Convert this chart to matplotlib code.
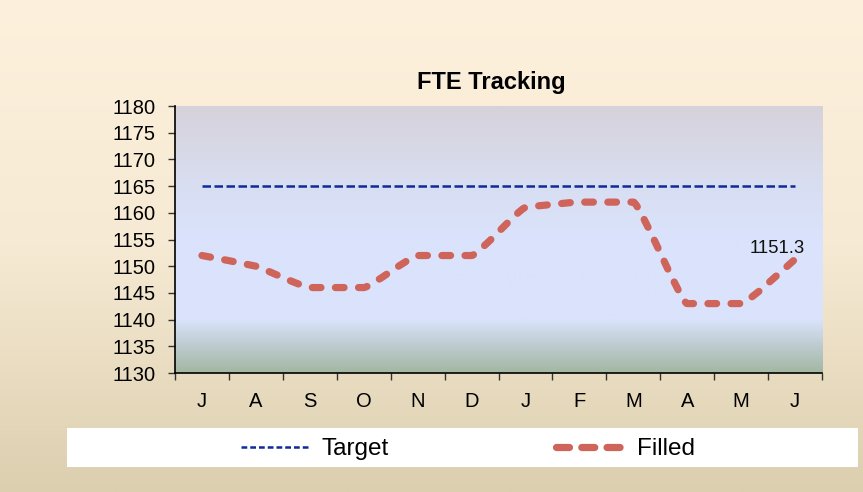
import numpy as np
import matplotlib
matplotlib.use("Agg")
import matplotlib.pyplot as plt
from matplotlib.colors import LinearSegmentedColormap
from matplotlib.path import Path
from matplotlib.patches import PathPatch, Rectangle
from matplotlib.lines import Line2D

plt.rcParams['font.family'] = ['Liberation Sans', 'DejaVu Sans']

# --- data ---
months = ["J", "A", "S", "O", "N", "D", "J", "F", "M", "A", "M", "J"]
target = [1165] * 12
filled = [1152, 1150, 1146, 1146, 1152, 1152, 1161, 1162, 1162, 1143, 1143, 1151.3]
last_label = "1151.3"

W, H = 863, 492
fig = plt.figure(figsize=(W / 100, H / 100), dpi=100)

# figure background gradient
bg = fig.add_axes([0, 0, 1, 1], zorder=-10)
bg_cmap = LinearSegmentedColormap.from_list("bg", ["#FDF1DD", "#F6EAD4", "#DCCFAF"])
bg.imshow(np.linspace(0, 1, 256).reshape(-1, 1), cmap=bg_cmap, aspect="auto",
          extent=[0, 1, 0, 1], origin="upper")
bg.set_axis_off()

# plot area
L, R, T, B = 175, 822, 106, 373
ax = fig.add_axes([L / W, 1 - B / H, (R - L) / W, (B - T) / H])
ax.set_facecolor("none")
pa_cmap = LinearSegmentedColormap.from_list(
    "pa", [(0, "#D6D2DB"), (0.35, "#D9E0F5"), (0.5, "#DAE3FB"), (0.8, "#DAE3FB"),
           (0.9, "#BDCBCF"), (1.0, "#A3B7A1")])
ax.imshow(np.linspace(0, 1, 256).reshape(-1, 1), cmap=pa_cmap, aspect="auto",
          extent=[0, 1, 0, 1], origin="upper", transform=ax.transAxes, zorder=0)

x = np.arange(len(months))
ax.plot(x, target, color="#0F2A9C", lw=1.8, linestyle=(0, (3.4, 1.4)), zorder=3)

# lightly smoothed filled line (bezier with short handles, flat at turning points)
y = np.array(filled, dtype=float)
d = np.diff(y)
m = np.zeros_like(y)
m[0], m[-1] = d[0], d[-1]
for i in range(1, len(y) - 1):
    if d[i - 1] * d[i] > 0:
        m[i] = 2 / (1 / d[i - 1] + 1 / d[i])
h = 0.12
verts = [(x[0], y[0])]
codes = [Path.MOVETO]
for i in range(len(y) - 1):
    verts += [(x[i] + h, y[i] + m[i] * h), (x[i + 1] - h, y[i + 1] - m[i + 1] * h),
              (x[i + 1], y[i + 1])]
    codes += [Path.CURVE4] * 3
ax.add_patch(PathPatch(Path(verts, codes), facecolor="none", edgecolor="#CF645A",
                       lw=5.2, linestyle=(0, (1.2, 2.0)), capstyle="round",
                       joinstyle="round", zorder=4))

ax.annotate(last_label, (x[-1], y[-1]), xytext=(-13, 1.5), textcoords="offset points",
            ha="center", va="bottom", fontsize=13.3, color="#111111")

ax.set_xlim(-0.5, len(months) - 0.5)
ax.set_ylim(1130, 1180)
ax.set_yticks(np.arange(1130, 1181, 5))
ax.set_xticks(np.arange(-0.5, len(months), 1))
ax.set_xticklabels([])
ax.set_xticks(x, minor=True)
ax.set_xticklabels(months, minor=True)
ax.tick_params(axis="x", which="major", length=5, width=1, color="#333333", direction="out")
ax.tick_params(axis="x", which="minor", length=0, pad=14, labelsize=14.5)
ax.tick_params(axis="y", length=5, width=1, color="#333333", pad=9, labelsize=14.5)
for s in ["top", "right"]:
    ax.spines[s].set_visible(False)
for s in ["left", "bottom"]:
    ax.spines[s].set_color("black")
    ax.spines[s].set_linewidth(1.2)
    ax.spines[s].set_zorder(5)

fig.text(491 / W, 1 - 83 / H, "FTE Tracking", ha="center", va="center",
         fontsize=17, fontweight="bold")

# legend box
fig.patches.append(Rectangle((67 / W, 1 - 467 / H), 791 / W, 39 / H,
                             transform=fig.transFigure, facecolor="white",
                             edgecolor="none", zorder=1))
handles = [Line2D([], [], color="#0F2A9C", lw=1.8, linestyle=(0, (2.3, 1.2))),
           Line2D([], [], color="#CF645A", lw=5.2, linestyle=(0, (1.8, 1.7)),
                  solid_capstyle="round", dash_capstyle="round")]
fig.legend(handles, ["Target", "Filled"], loc="center", ncol=2,
           bbox_to_anchor=(468 / W, 1 - 449 / H), frameon=False, fontsize=17.5,
           handlelength=2.75, handletextpad=0.55, columnspacing=6.9)

fig.savefig("out.png", dpi=100)
